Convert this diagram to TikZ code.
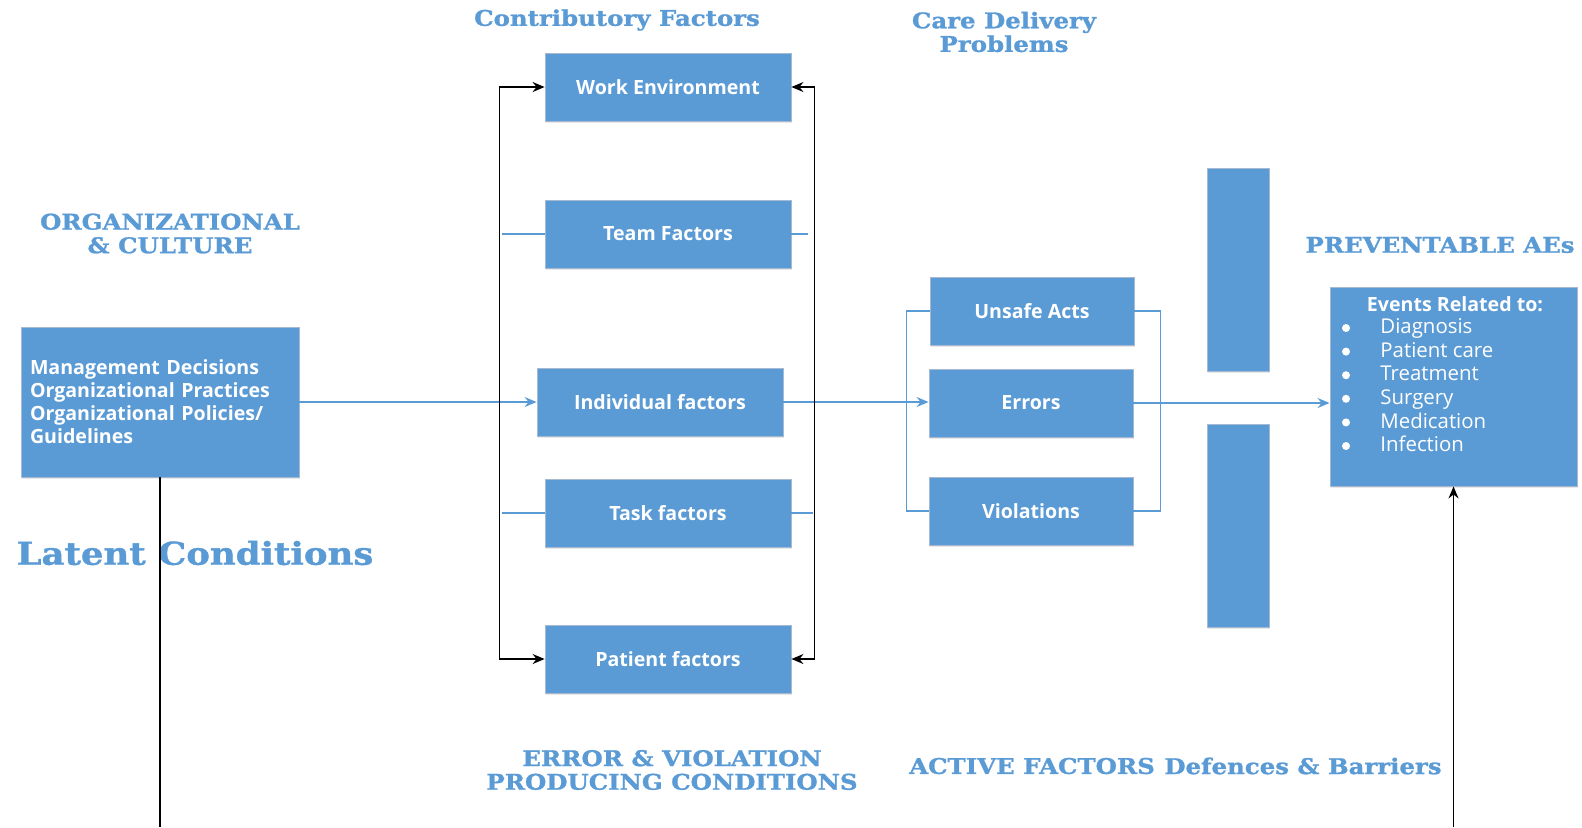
\documentclass[tikz,border=0pt]{standalone}
\usepackage{fontspec}
\setmainfont{Open Sans}
\newfontfamily\headfont{DejaVu Serif}[FakeStretch=1.13, BoldFeatures={FakeBold=1.2}]
\usetikzlibrary{shadows, arrows.meta}

\definecolor{boxblue}{HTML}{5B9BD5}
\definecolor{boxedge}{RGB}{165,185,210}

\begin{document}
\begin{tikzpicture}[x=0.5pt, y=-0.5pt, >={Stealth[length=6pt, width=5pt]},
    box/.style={draw=boxedge, fill=boxblue, text=white, inner sep=0pt,
        font=\fontsize{9.8}{11.5}\selectfont\bfseries,
        drop shadow={shadow xshift=0.6pt, shadow yshift=-0.9pt, opacity=0.18}},
    factor/.style={box, minimum width=123pt, minimum height=34pt},
    act/.style={box, minimum width=102pt, minimum height=34pt},
    bar/.style={box, minimum width=31pt, minimum height=101.5pt},
    heading/.style={text=boxblue, align=center,
        font=\headfont\bfseries\fontsize{10.8}{11.8}\selectfont},
    blueline/.style={draw=boxblue, line width=0.75pt},
    blackline/.style={draw=black, line width=0.8pt}]
    \useasboundingbox (0,0) rectangle (1582,827);

    % headings
    \node[heading] (orghead) at (170,233.5) {ORGANIZATIONAL\\\& CULTURE};
    \node[heading] (contribhead) at (617,20) {Contributory Factors};
    \node[heading] (carehead) at (1004,32) {Care Delivery\\Problems};
    \node[heading] (preventhead) at (1440,245) {PREVENTABLE AEs};
    \node[heading] (evchead) at (672,770) {ERROR \& VIOLATION\\PRODUCING CONDITIONS};
    \node[heading] (activehead) at (1032,766) {ACTIVE FACTORS};
    \node[heading] (barrierhead) at (1303,766) {Defences \& Barriers};
    \node[heading, font=\headfont\bfseries\fontsize{15.7}{17}\selectfont] (latent) at (195,553) {Latent Conditions};

    % organisation
    \node[box, minimum width=138.5pt, minimum height=75pt, text width=130pt,
        inner xsep=4.5pt, align=left] (mgmt) at (160,402)
        {Management Decisions\\Organizational Practices\\Organizational Policies/\\Guidelines};

    % contributory factors
    \node[factor] (work) at (668,87) {Work Environment};
    \node[factor] (team) at (668,234) {Team Factors};
    \node[factor] (indiv) at (660,402) {Individual factors};
    \node[factor] (task) at (668,513) {Task factors};
    \node[factor] (patient) at (668,659) {Patient factors};

    % care delivery problems
    \node[act] (unsafe) at (1032,311) {Unsafe Acts};
    \node[act] (errors) at (1031,403) {Errors};
    \node[act] (viol) at (1031,511) {Violations};

    % defences
    \node[bar] (barup) at (1238,269.5) {};
    \node[bar] (bardown) at (1238,526) {};

    % outcomes
    \node[box, minimum width=123.5pt, minimum height=99.5pt] (events) at (1453.5,386.5) {};
    \node[text=white, font=\fontsize{9.8}{11.5}\selectfont\bfseries] (evtitle) at (1455,304) {Events Related to:};
    \foreach \ev [count=\i] in {Diagnosis, Patient care, Treatment, Surgery, Medication, Infection} {
        \fill[white] (1346,{328+23.6*(\i-1)}) circle (2pt);
        \node[text=white, anchor=west, inner sep=0pt, text height=7.2pt, text depth=1.6pt,
            font=\fontsize{10.2}{11.5}\selectfont] (ev\i) at (1380,{328+23.6*(\i-1)}) {\ev};
    }

    % flow
    \draw[blueline, ->] (mgmt) -- (indiv);
    \draw[blueline, ->] (indiv.east) -- (indiv.east -| errors.west);
    \draw[blueline, ->] (errors.east) -- (errors.east -| events.west);
    \draw[blueline] (unsafe.west) -- ++(-23,0) |- (viol.west);
    \draw[blueline] (unsafe.east) -- ++(26,0) |- (viol.east);
    \draw[blueline] (team.west) -- ++(-43,0);
    \draw[blueline] (team.east) -- ++(17,0);
    \draw[blueline] (task.west) -- ++(-43,0);
    \draw[blueline] (task.east) -- ++(22,0);

    \draw[blackline, <->] (work.west) -- ++(-45,0) |- (patient.west);
    \draw[blackline, <->] (work.east) -- ++(23,0) |- (patient.east);

    \coordinate (mgmtout) at (160,827);
    \coordinate (evin) at (1453.5,827);
    \draw[blackline] (mgmt) -- (mgmtout);
    \draw[blackline, ->] (evin) -- (events);
\end{tikzpicture}
\end{document}
